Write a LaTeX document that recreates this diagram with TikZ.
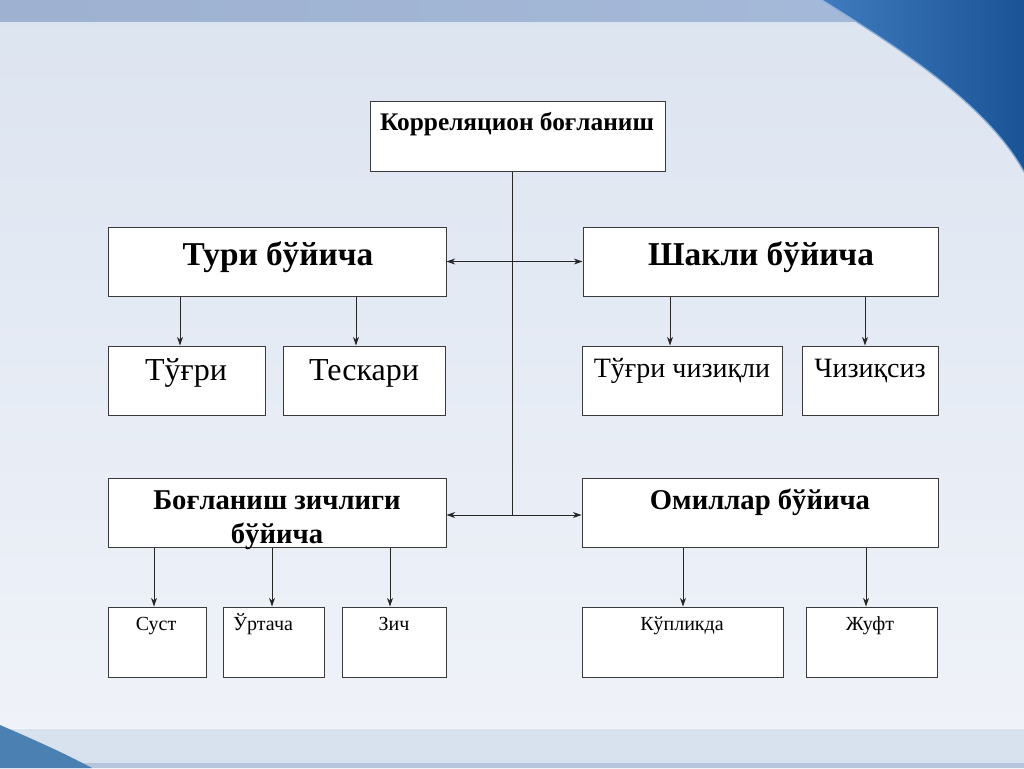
\documentclass[tikz,border=0pt]{standalone}
\usepackage{fontspec}
\setmainfont{Liberation Serif}
\usetikzlibrary{fit,arrows.meta}
\definecolor{bgtop}{HTML}{DCE4F0}
\definecolor{bgbot}{HTML}{F0F3F9}
\definecolor{bandtop}{HTML}{A6BADB}
\definecolor{bandbot}{HTML}{D8E1EE}
\definecolor{bandedge}{HTML}{B4C5DC}
\definecolor{swdark}{HTML}{1B5496}
\definecolor{swlight}{HTML}{3F7BBE}
\definecolor{cornerblue}{HTML}{4A80B2}
\definecolor{boxline}{HTML}{3A3A3A}
\tikzset{
  box/.style={draw=boxline, line width=0.75pt, fill=white, inner sep=0pt, rectangle},
  arr/.style={draw=black!85, line width=0.75pt, -{Stealth[length=6.5pt,width=4.5pt]}},
  arrboth/.style={draw=black!85, line width=0.75pt, {Stealth[length=6.5pt,width=4.5pt]}-{Stealth[length=6.5pt,width=4.5pt]}},
  trunk/.style={draw=black!85, line width=0.75pt},
  lbl/.style={anchor=base, inner sep=0pt, text=black},
  bigb/.style={lbl, font=\fontsize{25}{30}\selectfont\bfseries},
  midb/.style={lbl, font=\fontsize{21.5}{25}\selectfont\bfseries},
  topb/.style={lbl, font=\fontsize{19}{23}\selectfont\bfseries},
  bigr/.style={lbl, font=\fontsize{24}{28}\selectfont},
  midr/.style={lbl, font=\fontsize{21}{25}\selectfont},
  smallr/.style={lbl, font=\fontsize{15}{18}\selectfont},
}
\begin{document}
\begin{tikzpicture}[x=0.75pt,y=-0.75pt]
\useasboundingbox (0,0) rectangle (1024,768);
% background
\shade[top color=bgtop, bottom color=bgbot] (0,0) rectangle (1024,768);
\shade[left color=bandtop!95!black, right color=bandtop] (0,0) rectangle (1024,22);
\fill[bandtop!40!white] (0,22) rectangle (1024,25);
\fill[bandbot] (0,728) rectangle (1024,768);
\fill[bandedge] (0,763) rectangle (1024,768);
\draw[white!85!bandedge, line width=0.75pt] (0,728) -- (1024,728);
% top-right swoosh
\shade[left color=swlight, right color=swdark]
  (822,0) .. controls (885,40) and (985,100) .. (1024,172) -- (1024,0) -- cycle;
\draw[swlight!60!white, line width=1pt] (822,0) .. controls (885,40) and (985,100) .. (1024,172);
% bottom-left corner
\fill[cornerblue] (0,725) .. controls (30,738) and (62,752) .. (92,768) -- (0,768) -- cycle;

% boxes
\node[box, fit={(370,101) (665,171)}] (korr) {};
\node[box, fit={(108,227) (446,296)}] (turi) {};
\node[box, fit={(583,227) (938,296)}] (shakli) {};
\node[box, fit={(108,346) (265,415)}] (tugri) {};
\node[box, fit={(283,346) (445,415)}] (teskari) {};
\node[box, fit={(582,346) (782,415)}] (chiziqli) {};
\node[box, fit={(802,346) (938,415)}] (chiziqsiz) {};
\node[box, fit={(108,478) (446,547)}] (bog) {};
\node[box, fit={(582,478) (938,547)}] (omil) {};
\node[box, fit={(108,607) (206,677)}] (sust) {};
\node[box, fit={(223,607) (324,677)}] (urtacha) {};
\node[box, fit={(342,607) (446,677)}] (zich) {};
\node[box, fit={(582,607) (783,677)}] (kuplik) {};
\node[box, fit={(806,607) (937,677)}] (juft) {};

% labels
\node[topb] (lkorr) at (517,130) {Корреляцион боғланиш};
\node[bigb] (lturi) at (278,265) {Тури бўйича};
\node[bigb] (lshakli) at (761,265) {Шакли бўйича};
\node[bigr] (ltugri) at (186,380) {Тўғри};
\node[bigr] (lteskari) at (364,380) {Тескари};
\node[midr] (lchiziqli) at (682,377) {Тўғри чизиқли};
\node[midr] (lchiziqsiz) at (870,377) {Чизиқсиз};
\node[midb] (lbog1) at (277,509) {Боғланиш зичлиги};
\node[midb] (lbog2) at (277,543) {бўйича};
\node[midb] (lomil) at (760,509) {Омиллар бўйича};
\node[smallr] (lsust) at (156,630) {Суст};
\node[smallr] (lurtacha) at (263,630) {Ўртача};
\node[smallr] (lzich) at (394,630) {Зич};
\node[smallr] (lkuplik) at (682,630) {Кўпликда};
\node[smallr] (ljuft) at (870,630) {Жуфт};

% trunk and horizontal connectors
\coordinate (tx) at (512,0);
\coordinate (jend) at (512,515);
\draw[trunk] (tx |- korr.south) -- (jend);
\draw[arrboth] (turi.east) -- (shakli.west);
\draw[arrboth] (bog.east |- jend) -- (omil.west |- jend);

% child arrows
\coordinate (a1) at (180,0);
\coordinate (a2) at (356,0);
\coordinate (a3) at (670,0);
\coordinate (a4) at (865,0);
\coordinate (a5) at (154,0);
\coordinate (a6) at (272,0);
\coordinate (a7) at (390,0);
\coordinate (a8) at (683,0);
\coordinate (a9) at (866,0);
\draw[arr] (a1 |- turi.south) -- (a1 |- tugri.north);
\draw[arr] (a2 |- turi.south) -- (a2 |- teskari.north);
\draw[arr] (a3 |- shakli.south) -- (a3 |- chiziqli.north);
\draw[arr] (a4 |- shakli.south) -- (a4 |- chiziqsiz.north);
\draw[arr] (a5 |- bog.south) -- (a5 |- sust.north);
\draw[arr] (a6 |- bog.south) -- (a6 |- urtacha.north);
\draw[arr] (a7 |- bog.south) -- (a7 |- zich.north);
\draw[arr] (a8 |- omil.south) -- (a8 |- kuplik.north);
\draw[arr] (a9 |- omil.south) -- (a9 |- juft.north);
\end{tikzpicture}
\end{document}
